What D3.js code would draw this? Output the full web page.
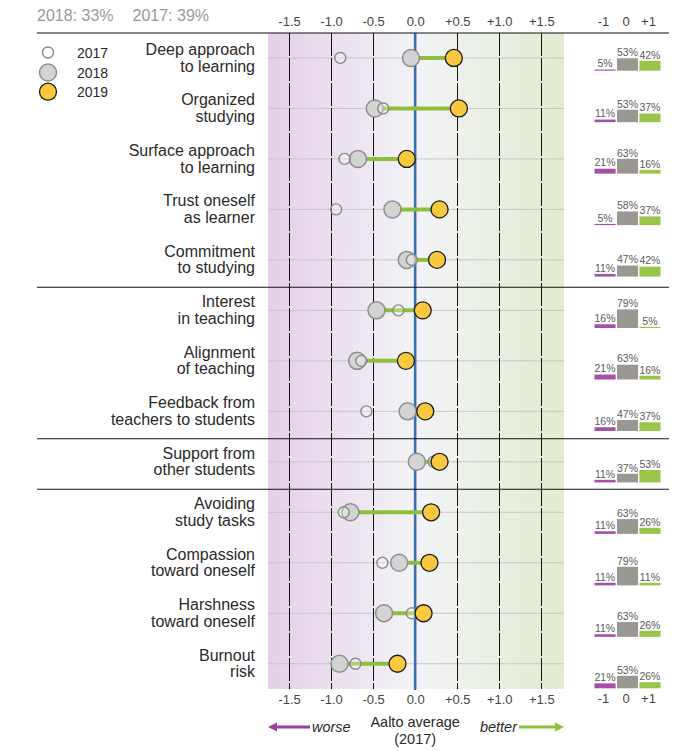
<!DOCTYPE html>
<html>
<head>
<meta charset="utf-8">
<script src="https://cdn.jsdelivr.net/npm/d3@7"></script>
<style>
  html, body { margin: 0; padding: 0; background: #fff; }
  svg { display: block; font-family: "Liberation Sans", Arial, Helvetica, sans-serif; }
</style>
</head>
<body>
<svg id="chart" width="696" height="751"></svg>
<script>
// ---------------- DATA ----------------
const categories = [
  "Deep approach\nto learning",
  "Organized\nstudying",
  "Surface approach\nto learning",
  "Trust oneself\nas learner",
  "Commitment\nto studying",
  "Interest\nin teaching",
  "Alignment\nof teaching",
  "Feedback from\nteachers to students",
  "Support from\nother students",
  "Avoiding\nstudy tasks",
  "Compassion\ntoward oneself",
  "Harshness\ntoward oneself",
  "Burnout\nrisk"
];
const values2017 = [-0.89, -0.38, -0.84, -0.94, -0.04, -0.20, -0.64, -0.58, 0.22, -0.85, -0.39, -0.04, -0.71];
const values2018 = [-0.05, -0.48, -0.68, -0.27, -0.10, -0.46, -0.69, -0.09, 0.02, -0.77, -0.19, -0.37, -0.90];
const values2019 = [0.46, 0.52, -0.10, 0.29, 0.26, 0.09, -0.11, 0.12, 0.29, 0.19, 0.17, 0.10, -0.21];

const distNeg     = [5, 11, 21, 5, 11, 16, 21, 16, 11, 11, 11, 11, 21];
const distNeutral = [53, 53, 63, 58, 47, 79, 63, 47, 37, 63, 79, 63, 53];
const distPos     = [42, 37, 16, 37, 42, 5, 16, 37, 53, 26, 11, 26, 26];

const xTicks = [-1.5, -1.0, -0.5, 0.0, 0.5, 1.0, 1.5];
const distLabels = ["-1", "0", "+1"];
const legendYears = ["2017", "2018", "2019"];
const headerText = ["2018: 33%", "2017: 39%"];
const groupEnds = [5, 8, 9];

// ---------------- SETUP ----------------
const svg = d3.select("#chart");
const x = d3.scaleLinear().domain([-1.75, 1.77]).range([268, 564]);
const y = d3.scaleBand().domain(d3.range(categories.length)).range([32.7, 689]).padding(0);
const yR = d3.scalePoint().domain(d3.range(categories.length)).range([70.7, 688.3]);
const xR = d3.scaleBand().domain(distLabels).range([594.5, 660.5]).paddingInner(0.06);
const hR = d3.scaleLinear().domain([0, 100]).range([0, 23.5]);
const cy = i => y(i) + y.bandwidth() / 2;
const fmt = d => d > 0 ? "+" + d.toFixed(1) : d.toFixed(1);

// gradient background
const defs = svg.append("defs");
const grad = defs.append("linearGradient").attr("id", "bg").attr("x1", 0).attr("x2", 1).attr("y1", 0).attr("y2", 0);
grad.append("stop").attr("offset", "0%").attr("stop-color", "#e4d0e7");
grad.append("stop").attr("offset", ((x(0) - x.range()[0]) / (x.range()[1] - x.range()[0]) * 100) + "%").attr("stop-color", "#f3f3f7");
grad.append("stop").attr("offset", "100%").attr("stop-color", "#e1ecd0");

const bgTop = 33, bgBot = 689;
svg.append("rect").attr("x", x.range()[0]).attr("y", bgTop)
  .attr("width", x.range()[1] - x.range()[0]).attr("height", bgBot - bgTop)
  .attr("fill", "url(#bg)");

// header text
svg.append("text").attr("x", 37).attr("y", 21).attr("font-size", 16).attr("fill", "#9a9a9a").text(headerText[0]);
svg.append("text").attr("x", 132.5).attr("y", 21).attr("font-size", 16).attr("fill", "#9a9a9a").text(headerText[1]);

// row gridlines
svg.append("g").selectAll("line").data(categories).join("line")
  .attr("x1", x.range()[0]).attr("x2", x.range()[1])
  .attr("y1", (d, i) => cy(i)).attr("y2", (d, i) => cy(i))
  .attr("stroke", "#c6c6c6").attr("stroke-width", 1);

// vertical dashed gridlines
svg.append("g").selectAll("line").data(xTicks.filter(t => t !== 0)).join("line")
  .attr("x1", d => Math.round(x(d)) + 0.5).attr("x2", d => Math.round(x(d)) + 0.5)
  .attr("y1", bgTop).attr("y2", bgBot)
  .attr("stroke", "#111").attr("stroke-width", 1).attr("stroke-dasharray", "23,2");

// zero line
svg.append("line").attr("x1", x(0)).attr("x2", x(0)).attr("y1", bgTop).attr("y2", bgBot + 1)
  .attr("stroke", "#3d6fae").attr("stroke-width", 2.6);

// separators
const sepYs = [33].concat(groupEnds.map(k => y(k) + 2.2));
svg.append("g").selectAll("line").data(sepYs).join("line")
  .attr("x1", 37).attr("x2", 669).attr("y1", d => d).attr("y2", d => d)
  .attr("stroke", "#111").attr("stroke-width", 1.1);

// axes (top & bottom)
const styleAxis = g => {
  g.select(".domain").remove();
  g.selectAll(".tick line").remove();
  g.selectAll("text").attr("font-size", 13).attr("fill", "#444")
    .attr("font-family", '"Liberation Sans", Arial, sans-serif');
};
svg.append("g").attr("transform", "translate(0,26)")
  .call(d3.axisTop(x).tickValues(xTicks).tickFormat(fmt).tickSize(0).tickPadding(0))
  .call(styleAxis);
svg.append("g").attr("transform", "translate(0,695)")
  .call(d3.axisBottom(x).tickValues(xTicks).tickFormat(fmt).tickSize(0).tickPadding(0))
  .call(g => { styleAxis(g); g.selectAll("text").attr("dy", "0.71em"); });

// right panel header/footer
svg.append("g").attr("transform", "translate(-1.5,26)")
  .call(d3.axisTop(xR).tickSize(0).tickPadding(0))
  .call(styleAxis);
svg.append("g").attr("transform", "translate(-1.5,694)")
  .call(d3.axisBottom(xR).tickSize(0).tickPadding(0))
  .call(g => { styleAxis(g); g.selectAll("text").attr("dy", "0.71em"); });

// category labels
const labels = svg.append("g").selectAll("text").data(categories).join("text")
  .attr("text-anchor", "end").attr("font-size", 16).attr("fill", "#2a2a2a")
  .attr("x", 255).attr("y", (d, i) => cy(i));
labels.selectAll("tspan").data(d => d.split("\n")).join("tspan")
  .attr("x", 255).attr("dy", (d, j) => j === 0 ? "-0.2em" : "1.05em").text(d => d);

// connecting lines 2018 -> 2019
svg.append("g").selectAll("line").data(categories).join("line")
  .attr("x1", (d, i) => x(values2018[i])).attr("x2", (d, i) => x(values2019[i]))
  .attr("y1", (d, i) => cy(i)).attr("y2", (d, i) => cy(i))
  .attr("stroke", "#8dbf3b").attr("stroke-width", 4);

// dots
svg.append("g").selectAll("circle").data(values2018).join("circle")
  .attr("cx", d => x(d)).attr("cy", (d, i) => cy(i)).attr("r", 8.5)
  .attr("fill", "#d3d3d3").attr("stroke", "#8e8e8e").attr("stroke-width", 1.5);
svg.append("g").selectAll("circle").data(values2017).join("circle")
  .attr("cx", d => x(d)).attr("cy", (d, i) => cy(i)).attr("r", 5.5)
  .attr("fill", "#fff").attr("fill-opacity", 0.3)
  .attr("stroke", "#8a8a8a").attr("stroke-width", 1.4);
svg.append("g").selectAll("circle").data(values2019).join("circle")
  .attr("cx", d => x(d)).attr("cy", (d, i) => cy(i)).attr("r", 8.5)
  .attr("fill", "#f8c83f").attr("stroke", "#1a1a1a").attr("stroke-width", 1.3);

// legend
const legY = [52.5, 72.5, 91.7];
const lg = svg.append("g");
lg.append("circle").attr("cx", 48).attr("cy", legY[0]).attr("r", 5.5).attr("fill", "#fff").attr("stroke", "#8a8a8a").attr("stroke-width", 1.4);
lg.append("circle").attr("cx", 48).attr("cy", legY[1]).attr("r", 8.5).attr("fill", "#d3d3d3").attr("stroke", "#8e8e8e").attr("stroke-width", 1.5);
lg.append("circle").attr("cx", 48).attr("cy", legY[2]).attr("r", 8.5).attr("fill", "#f8c83f").attr("stroke", "#1a1a1a").attr("stroke-width", 1.3);
lg.selectAll("text").data(legendYears).join("text")
  .attr("x", 77).attr("y", (d, i) => legY[i] + 5).attr("font-size", 14).attr("fill", "#2a2a2a").text(d => d);

// right distribution bars
const distColors = ["#a64ea8", "#9a9792", "#99c54a"];
const dist = categories.map((c, i) => [distNeg[i], distNeutral[i], distPos[i]]);
const rg = svg.append("g");
dist.forEach((row, i) => {
  row.forEach((v, k) => {
    const key = distLabels[k];
    const base = yR(i);
    rg.append("rect").attr("x", xR(key)).attr("width", xR.bandwidth())
      .attr("y", base - hR(v)).attr("height", hR(v)).attr("fill", distColors[k]);
    rg.append("text").attr("x", xR(key) + xR.bandwidth() / 2).attr("y", base - hR(v) - 2.2)
      .attr("text-anchor", "middle").attr("font-size", 10.5).attr("fill", "#5a5a5a").text(v + "%");
  });
});

// bottom annotation
const by = 727;
svg.append("line").attr("x1", 275).attr("x2", 310).attr("y1", by).attr("y2", by).attr("stroke", "#9c3f9f").attr("stroke-width", 3);
svg.append("path").attr("d", `M268,${by} L277,${by - 4.5} L277,${by + 4.5} Z`).attr("fill", "#9c3f9f");
svg.append("text").attr("x", 312).attr("y", by + 5).attr("font-size", 14.5).attr("font-style", "italic").attr("fill", "#2a2a2a").text("worse");

svg.append("line").attr("x1", 519).attr("x2", 556).attr("y1", by).attr("y2", by).attr("stroke", "#8cc23d").attr("stroke-width", 3);
svg.append("path").attr("d", `M564,${by} L555,${by - 4.5} L555,${by + 4.5} Z`).attr("fill", "#8cc23d");
svg.append("text").attr("x", 517).attr("y", by + 5).attr("text-anchor", "end").attr("font-size", 14.5).attr("font-style", "italic").attr("fill", "#2a2a2a").text("better");

svg.append("text").attr("x", x(0)).attr("y", 727).attr("text-anchor", "middle").attr("font-size", 14.5).attr("fill", "#2a2a2a").text("Aalto average");
svg.append("text").attr("x", x(0)).attr("y", 744).attr("text-anchor", "middle").attr("font-size", 14.5).attr("fill", "#2a2a2a").text("(2017)");
</script>
</body>
</html>
